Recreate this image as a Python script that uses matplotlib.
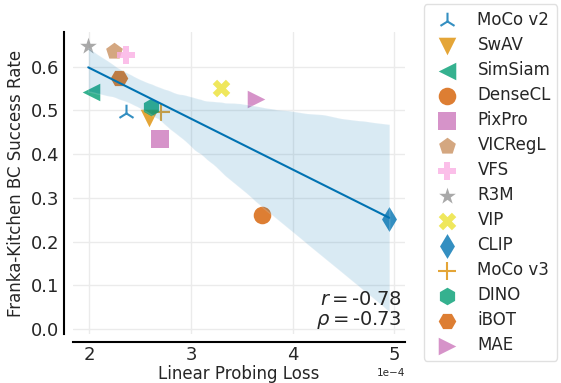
import matplotlib
matplotlib.use("Agg")
import matplotlib.pyplot as plt
import seaborn as sns
import numpy as np

sns.set_theme(style="whitegrid")
plt.rcParams['font.family'] = ['DejaVu Sans']

methods = ["MoCo v2", "SwAV", "SimSiam", "DenseCL", "PixPro", "VICRegL", "VFS",
           "R3M", "VIP", "CLIP", "MoCo v3", "DINO", "iBOT", "MAE"]
loss_e4 = [2.36, 2.59, 2.02, 3.70, 2.70, 2.24, 2.36, 1.99, 3.30, 4.95, 2.71, 2.61, 2.29, 3.64]
success = [0.493, 0.482, 0.542, 0.261, 0.434, 0.636, 0.627, 0.647, 0.552, 0.251, 0.497, 0.507, 0.573, 0.527]
colors = ["#0173b2", "#de8f05", "#029e73", "#d55e00", "#cc78bc", "#ca9161", "#fbafe4",
          "#949494", "#ece133", "#0173b2", "#de8f05", "#029e73", "#d55e00", "#cc78bc"]
markers = ["2", "v", "<", "o", "s", "p", "P", "*", "X", "d", "+", "h", "H", ">"]
r_text = "-0.78"
rho_text = "-0.73"

loss = np.array(loss_e4) * 1e-4

fig = plt.figure(figsize=(5.61, 3.83), dpi=100)
ax = fig.add_axes([0.1301, 0.1279, 0.5918, 0.7885])

for name, x, y, c, m in zip(methods, loss, success, colors, markers):
    unfilled = m in ("2", "+")
    ax.scatter([x], [y], s=160, marker=m, color=c, alpha=0.8,
               linewidths=1.5 if unfilled else 0, label=name)

sns.regplot(x=loss, y=success, scatter=False, ax=ax, color="#0173b2",
            line_kws=dict(lw=1.5), seed=0)

ax.set_xlim(1.84e-4, 5.105e-4)
ax.set_ylim(-0.011, 0.679)
ax.set_yticks([0.0, 0.1, 0.2, 0.3, 0.4, 0.5, 0.6])
ax.set_xticks([2e-4, 3e-4, 4e-4, 5e-4])
ax.ticklabel_format(style="sci", axis="x", scilimits=(0, 0))
ax.tick_params(labelsize=13, length=0, pad=3.2)
ax.tick_params(axis="x", pad=2.5)
ax.xaxis.get_offset_text().set_fontsize(7.5)
ax.grid(True, color="#ebebeb", lw=1)

for s in ("top", "right"):
    ax.spines[s].set_visible(False)
ax.spines["left"].set_position(("outward", 6.8))
ax.spines["bottom"].set_position(("outward", 5.8))
for s in ("left", "bottom"):
    ax.spines[s].set_color("black")
    ax.spines[s].set_linewidth(1.5)

ax.set_xlabel("Linear Probing Loss", fontsize=12, labelpad=1)
ax.set_ylabel("Franka-Kitchen BC Success Rate", fontsize=12)

ax.text(0.99, 0.01, "$r=$" + r_text + "\n" + r"$\rho=$" + rho_text,
        transform=ax.transAxes, ha="right", va="bottom", fontsize=14, linespacing=1.0)

fig.legend(loc="center left", bbox_to_anchor=(0.756, 0.5235), fontsize=12,
           frameon=True, borderaxespad=0, labelspacing=0.42, edgecolor="#d9d9d9")

fig.savefig("out.png", dpi=100)
